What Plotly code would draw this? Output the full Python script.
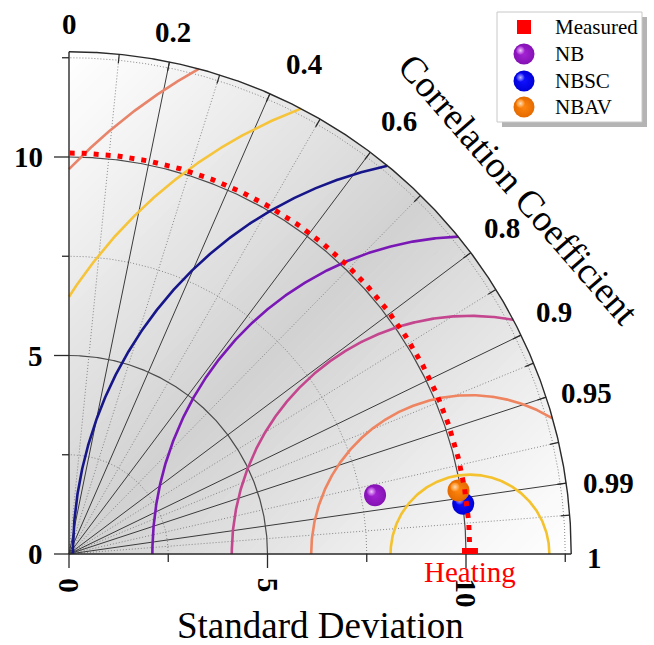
import numpy as np
import plotly.graph_objects as go

# ---------------- data ----------------
ref_name = "Heating"
ref_std = 10.1
model_names = ["NB", "NBSC", "NBAV"]
model_std = [7.85, 10.01, 9.94]
model_corr = [0.982, 0.992, 0.987]
model_colors = ["#A422D4", "#1010FF", "#FF860E"]
model_edge = ["#8412B4", "#0000D8", "#E46A00"]
model_light = ["#F2D0FC", "#C0C0FF", "#FFE2C0"]
corr_major = [0.2, 0.4, 0.6, 0.8, 0.9, 0.95, 0.99]
corr_minor = [0.1, 0.3, 0.5, 0.7, 0.85, 0.925, 0.975, 0.997]
corr_label_vals = [0, 0.2, 0.4, 0.6, 0.8, 0.9, 0.95, 0.99, 1]
corr_label_text = ["0", "0.2", "0.4", "0.6", "0.8", "0.9", "0.95", "0.99", "1"]
std_major = [0, 5, 10]
std_minor = [2.5, 7.5, 12.5]
std_tick_text = ["0", "5", "10"]
rms_levels = [2, 4, 6, 8, 10, 12, 14]
rms_colors = ["#F4C22E", "#EE8460", "#C4468E", "#7A18B6", "#16168A", "#F6C43A", "#E8846A"]
std_max = 12.65

# label nudges in pixels (dx, dy) - styling only
label_nudge = {"0": (0, 0), "0.2": (-3, 1), "0.4": (20, 2), "0.6": (6, -2), "0.8": (0, -2),
               "0.9": (-2, -6), "0.95": (-3, 10), "0.99": (-2, 6), "1": (-2, 4)}

# ---------------- geometry helpers ----------------
W, H = 654, 645
S = 39.7          # pixels per unit
OX, OY = 69, 554  # pixel position of origin


def px2x(p):
    return (p - OX) / S


def py2y(p):
    return (OY - p) / S


FONT = "Liberation Serif"
fig = go.Figure()


def add_line(xs, ys, color, width, dash=None, opacity=1.0):
    fig.add_trace(go.Scatter(x=xs, y=ys, mode="lines", hoverinfo="skip",
                             line=dict(color=color, width=width, dash=dash),
                             opacity=opacity, showlegend=False))


def arc(r, t0=0.0, t1=np.pi / 2, n=400):
    t = np.linspace(t0, t1, n)
    return r * np.cos(t), r * np.sin(t)


# ---------------- gradient background ----------------
def clip(poly, a, b, c):
    out = []
    n = len(poly)
    for i in range(n):
        p, q = poly[i], poly[(i + 1) % n]
        fp = a * p[0] + b * p[1] - c
        fq = a * q[0] + b * q[1] - c
        if fp <= 0:
            out.append(p)
        if (fp < 0 < fq) or (fq < 0 < fp):
            t = fp / (fp - fq)
            out.append((p[0] + t * (q[0] - p[0]), p[1] + t * (q[1] - p[1])))
    return out


ax_, ay_ = arc(std_max, n=300)
quarter = [(0.0, 0.0)] + list(zip(ax_, ay_))
NS = 90
edges = np.linspace(-std_max, std_max, NS + 1)
for i in range(NS):
    c0, c1 = edges[i], edges[i + 1]
    poly = clip(quarter, -1, 1, -c0)   # x - y >= c0
    poly = clip(poly, 1, -1, c1)       # x - y <= c1
    if len(poly) < 3:
        continue
    d = abs(0.5 * (c0 + c1)) / std_max
    g = int(round(255 - 46 * (1 - d) ** 1.1))
    col = f"rgb({g},{g},{g})"
    xs = [p[0] for p in poly] + [poly[0][0]]
    ys = [p[1] for p in poly] + [poly[0][1]]
    fig.add_trace(go.Scatter(x=xs, y=ys, mode="lines", fill="toself", fillcolor=col,
                             line=dict(color=col, width=1), hoverinfo="skip", showlegend=False))

# ---------------- grid ----------------
for c in corr_minor:
    th = np.arccos(c)
    add_line([0, std_max * np.cos(th)], [0, std_max * np.sin(th)], "#7a7a7a", 0.9, "1px,2px")
for r in std_minor:
    x, y = arc(r)
    add_line(x, y, "#7a7a7a", 0.9, "1px,2px")
for c in corr_major:
    th = np.arccos(c)
    add_line([0, std_max * np.cos(th)], [0, std_max * np.sin(th)], "#3a3a3a", 1)
for r in std_major[1:]:
    x, y = arc(r)
    add_line(x, y, "#4a4a4a", 1.2)

# ---------------- RMS contours ----------------
for r, col in zip(rms_levels, rms_colors):
    xi = (std_max ** 2 - r ** 2 + ref_std ** 2) / (2 * ref_std)
    t0 = np.arccos(np.clip((xi - ref_std) / r, -1, 1)) if abs(xi - ref_std) <= r else 0.0
    t1 = np.arccos(-ref_std / r) if r > ref_std else np.pi
    t = np.linspace(t0, t1, 500)
    add_line(ref_std + r * np.cos(t), r * np.sin(t), col, 2.6)

# ---------------- outer frame & axes ----------------
x, y = arc(std_max)
add_line(x, y, "#2a2a2a", 1.4)
add_line([0, 0], [0, std_max], "#2a2a2a", 1.4)
add_line([0, std_max], [0, 0], "#2a2a2a", 1.4)

# outer arc ticks
for c in corr_major + corr_minor:
    th = np.arccos(c)
    r0 = std_max - 9 / S
    add_line([r0 * np.cos(th), std_max * np.cos(th)], [r0 * np.sin(th), std_max * np.sin(th)], "#2a2a2a", 1.2)

# axis ticks
for v in std_major:
    add_line([-15 / S, 0], [v, v], "#2a2a2a", 1.3)
    add_line([v, v], [0, -14 / S], "#2a2a2a", 1.3)
for v in std_minor:
    add_line([-7 / S, 0], [v, v], "#2a2a2a", 1.3)
    add_line([v, v], [0, -8 / S], "#2a2a2a", 1.3)

# ---------------- model points (spheres) ----------------
mx = [s * c for s, c in zip(model_std, model_corr)]
my = [s * np.sqrt(1 - c ** 2) for s, c in zip(model_std, model_corr)]
order = [0, 1, 2]


def sphere(x, y, i, size):
    fig.add_trace(go.Scatter(x=[x], y=[y], mode="markers", hoverinfo="skip", showlegend=False,
                             marker=dict(size=size, color=model_edge[i],
                                         gradient=dict(type="radial", color=model_colors[i]),
                                         line=dict(width=0))))
    fig.add_trace(go.Scatter(x=[x - 3.5 / S], y=[y + 3.5 / S], mode="markers", hoverinfo="skip",
                             showlegend=False,
                             marker=dict(size=size * 0.42, color=model_colors[i],
                                         gradient=dict(type="radial", color=model_light[i]),
                                         line=dict(width=0), opacity=0.95)))


for i in order:
    sphere(mx[i], my[i], i, 22)

# ---------------- reference arc & point ----------------
x, y = arc(ref_std, n=600)
add_line(x, y, "#FF0000", 5, "5px,7px")
fig.add_shape(type="rect", x0=ref_std - 8 / S, x1=ref_std + 8 / S, y0=0, y1=6 / S,
              fillcolor="#FF0000", line=dict(width=0))

# ---------------- text ----------------
ann = []
TF = 29
for v, t in zip(corr_label_vals, corr_label_text):
    th = np.arccos(v)
    nd = sum(ch.isdigit() for ch in t)
    npd = t.count(".")
    w = TF * (0.5 * nd + 0.25 * npd)
    h = 0.72 * TF
    rad = 520 + (w / 2) * abs(np.cos(th)) + (h / 2) * abs(np.sin(th))
    dx, dy = label_nudge[t]
    ann.append(dict(x=rad / S * np.cos(th) + dx / S, y=rad / S * np.sin(th) - dy / S, text=t, showarrow=False,
                    xanchor="center", yanchor="middle",
                    font=dict(family=FONT, size=TF, color="black", weight="bold")))

for v, t in zip(std_major, std_tick_text):
    ann.append(dict(x=-24 / S, y=v, text=t, showarrow=False, xanchor="right", yanchor="middle",
                    font=dict(family=FONT, size=TF, color="black", weight="bold")))
    w = TF * 0.5 * len(t)
    ann.append(dict(x=v, y=py2y(578 + w / 2), text=t, showarrow=False, textangle=90,
                    xanchor="center", yanchor="middle",
                    font=dict(family=FONT, size=TF, color="black", weight="bold")))

ann.append(dict(x=ref_std, y=py2y(572), text=ref_name, showarrow=False, xanchor="center", yanchor="middle",
                font=dict(family=FONT, size=29, color="#FF0000")))
ann.append(dict(x=px2x(320), y=py2y(625), text="Standard Deviation", showarrow=False,
                xanchor="center", yanchor="middle", font=dict(family=FONT, size=37, color="black")))
ann.append(dict(x=px2x(519), y=py2y(189), text="Correlation Coefficient", showarrow=False, textangle=49,
                xanchor="center", yanchor="middle", font=dict(family=FONT, size=37, color="black")))

# ---------------- legend ----------------
fig.add_shape(type="rect", x0=px2x(502), x1=px2x(647), y0=py2y(127), y1=py2y(17), layer="below",
              fillcolor="#B4B4B4", line=dict(width=0))
fig.add_shape(type="rect", x0=px2x(497), x1=px2x(642), y0=py2y(122), y1=py2y(12), layer="below",
              fillcolor="white", line=dict(color="#C8C8C8", width=1))
leg_y = [27, 54, 81, 107]
fig.add_trace(go.Scatter(x=[px2x(524)], y=[py2y(leg_y[0])], mode="markers", hoverinfo="skip", showlegend=False,
                         marker=dict(symbol="square", size=14, color="#FF0000", line=dict(width=0))))
for k, i in enumerate(order):
    sphere(px2x(524), py2y(leg_y[k + 1]), i, 21)
for k, name in enumerate(["Measured"] + [model_names[i] for i in order]):
    ann.append(dict(x=px2x(553), y=py2y(leg_y[k]), text=name, showarrow=False, xanchor="left",
                    yanchor="middle", font=dict(family=FONT, size=21, color="black")))

fig.update_layout(
    width=W, height=H, margin=dict(l=0, r=0, t=0, b=0),
    paper_bgcolor="white", plot_bgcolor="white",
    xaxis=dict(range=[px2x(0), px2x(W)], visible=False, fixedrange=True),
    yaxis=dict(range=[py2y(H), py2y(0)], visible=False, fixedrange=True),
    annotations=ann, showlegend=False,
)
fig.write_html("out.html")
